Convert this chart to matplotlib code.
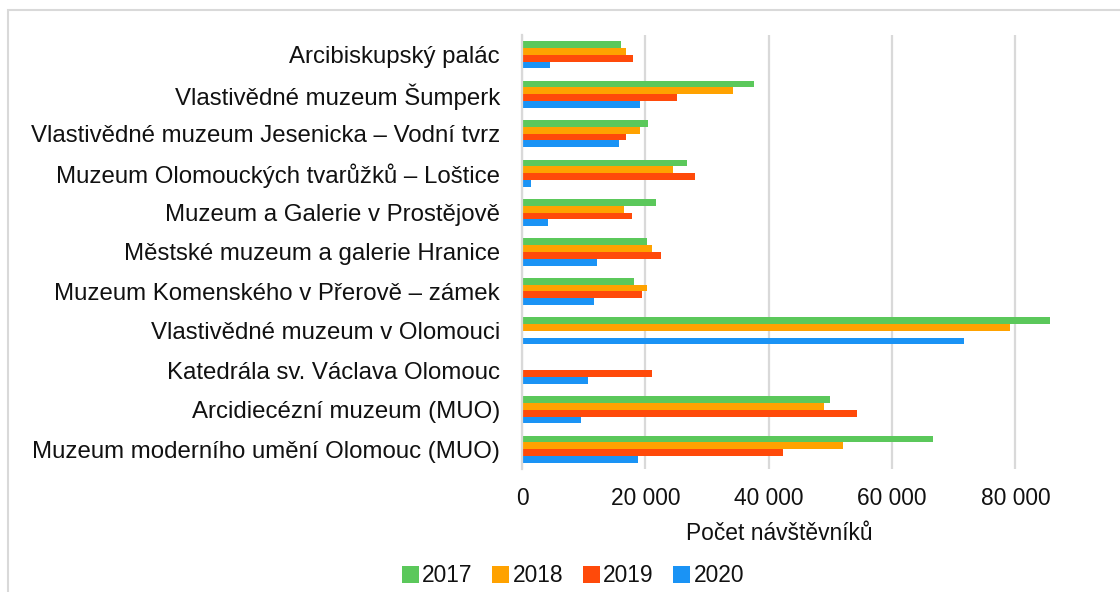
import numpy as np
import matplotlib
matplotlib.use("Agg")
import matplotlib.pyplot as plt
from matplotlib.patches import Rectangle

categories = [
    "Arcibiskupský palác",
    "Vlastivědné muzeum Šumperk",
    "Vlastivědné muzeum Jesenicka – Vodní tvrz",
    "Muzeum Olomouckých tvarůžků – Loštice",
    "Muzeum a Galerie v Prostějově",
    "Městské muzeum a galerie Hranice",
    "Muzeum Komenského v Přerově – zámek",
    "Vlastivědné muzeum v Olomouci",
    "Katedrála sv. Václava Olomouc",
    "Arcidiecézní muzeum (MUO)",
    "Muzeum moderního umění Olomouc (MUO)",
]
years = ["2017", "2018", "2019", "2020"]
v2017 = [16000, 37700, 20400, 26700, 21700, 20300, 18100, 85600, np.nan, 50000, 66600]
v2018 = [16800, 34200, 19100, 24500, 16500, 21000, 20300, 79100, np.nan, 49000, 52100]
v2019 = [18000, 25200, 16800, 28100, 17800, 22600, 19400, np.nan, 21000, 54400, 42300]
v2020 = [4500, 19200, 15700, 1500, 4200, 12200, 11700, 71600, 10700, 9500, 18800]
series = [v2017, v2018, v2019, v2020]
colors = ["#5bc85b", "#ffa200", "#ff4a0a", "#1a93f5"]
xticks = [0, 20000, 40000, 60000, 80000]
xticklabels = ["0", "20 000", "40 000", "60 000", "80 000"]

plt.rcParams["font.family"] = ["Liberation Sans", "DejaVu Sans"]
W, H = 1120, 592
fig = plt.figure(figsize=(W / 100, H / 100), dpi=100)

# outer border of the original chart area
fig.patches.append(Rectangle((8 / W, -0.05), 1.2, 1 - 10 / H + 0.05,
                             transform=fig.transFigure, fill=False,
                             edgecolor="#d9d9d9", linewidth=1.5))

left, right, top, bottom = 522, 1077, 35, 469
ax = fig.add_axes([left / W, 1 - bottom / H, (right - left) / W, (bottom - top) / H])

n = len(categories)
y = np.arange(n)
h = 0.172
offsets = [-1.5 * h, -0.5 * h, 0.5 * h, 1.5 * h]
for vals, c, off, lab in zip(series, colors, offsets, years):
    ax.barh(y + off, vals, height=h, color=c, label=lab, zorder=3)

fs = 16.4
ax.set_ylim(n - 0.5, -0.5)
ax.set_xlim(0, 90000)
ax.set_yticks(y)
ax.set_yticklabels(categories, fontsize=17.3, color="#111111")
ax.set_xticks(xticks)
ax.set_xticklabels(xticklabels, fontsize=fs, color="#111111")
ax.tick_params(axis="y", length=0, pad=16)
ax.tick_params(axis="x", length=0, pad=13)
ax.grid(axis="x", color="#d9d9d9", linewidth=1.6, zorder=0)
for s in ["top", "right", "bottom"]:
    ax.spines[s].set_visible(False)
ax.spines["left"].set_color("#d9d9d9")
ax.spines["left"].set_linewidth(1.6)
ax.spines["left"].set_zorder(4)

ax.set_xlabel("Počet návštěvníků", fontsize=fs, color="#111111")
ax.xaxis.set_label_coords((779 - left) / (right - left), -(533 - bottom) / (bottom - top), transform=ax.transAxes)
ax.xaxis.label.set_va("center")

leg = fig.legend(loc="center", bbox_to_anchor=(573 / W, 1 - 576 / H), ncol=4,
                 frameon=False, fontsize=fs, handlelength=0.75, handleheight=0.75,
                 handletextpad=0.15, columnspacing=0.85)
for t in leg.get_texts():
    t.set_color("#111111")

fig.savefig("out.png", dpi=100)
